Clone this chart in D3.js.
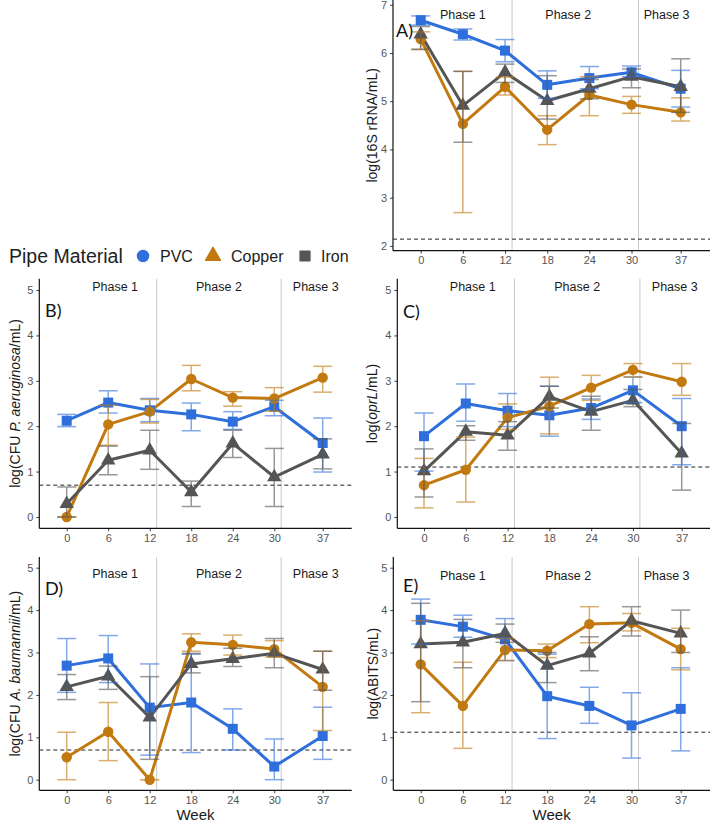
<!DOCTYPE html>
<html>
<head>
<meta charset="utf-8">
<script src="https://cdn.jsdelivr.net/npm/d3@7"></script>
<style>
  body { margin: 0; background: #fff; }
  svg { display: block; font-family: "Liberation Sans", Arial, sans-serif; }
</style>
</head>
<body>
<div id="chart"></div>
<script>
// sampling weeks and materials
var weeks = [0, 6, 12, 18, 24, 30, 37];
var materials = ["PVC", "Copper", "Iron"];
var phaseBreaks = [13, 31];
var phaseNames = ["Phase 1", "Phase 2", "Phase 3"];
var yTicksA = [2, 3, 4, 5, 6, 7];
var yTicksBE = [0, 1, 2, 3, 4, 5];

// A) 16S rRNA
var rrna_pvc = [6.68, 6.39, 6.05, 5.34, 5.48, 5.60, 5.26];
var rrna_pvc_err = [[6.58, 6.77], [6.27, 6.50], [5.82, 6.28], [5.06, 5.63], [5.26, 5.72], [5.51, 5.73], [4.88, 5.64]];
var rrna_copper = [6.29, 4.53, 5.30, 4.41, 5.13, 4.93, 4.77];
var rrna_copper_err = [[6.07, 6.44], [2.69, 5.62], [5.13, 5.50], [4.10, 4.70], [4.70, 5.51], [4.75, 5.10], [4.59, 5.07]];
var rrna_iron = [6.39, 4.91, 5.60, 5.01, 5.26, 5.51, 5.30];
var rrna_iron_err = [[6.08, 6.55], [4.15, 5.62], [5.39, 5.77], [4.63, 5.53], [5.05, 5.45], [5.28, 5.67], [4.77, 5.88]];

// B) P. aeruginosa
var pa_pvc = [2.12, 2.52, 2.35, 2.26, 2.10, 2.43, 1.63];
var pa_pvc_err = [[1.99, 2.26], [2.29, 2.78], [2.10, 2.61], [1.90, 2.51], [1.93, 2.32], [2.23, 2.57], [0.99, 2.18]];
var pa_copper = [0.00, 2.04, 2.32, 3.04, 2.63, 2.61, 3.07];
var pa_copper_err = [[0, 0], [1.58, 2.46], [2.07, 2.59], [2.78, 3.34], [2.44, 2.76], [2.33, 2.85], [2.75, 3.32]];
var pa_iron = [0.29, 1.25, 1.47, 0.55, 1.62, 0.88, 1.38];
var pa_iron_err = [[0, 0.66], [0.93, 1.56], [1.05, 1.91], [0.23, 0.79], [1.31, 1.91], [0.23, 1.51], [1.06, 1.72]];

// C) oprL
var oprl_pvc = [1.78, 2.50, 2.34, 2.24, 2.40, 2.79, 2.00];
var oprl_pvc_err = [[1.01, 2.29], [2.11, 2.93], [1.99, 2.72], [1.78, 2.88], [2.15, 2.60], [2.52, 3.08], [1.15, 2.61]];
var oprl_copper = [0.70, 1.04, 2.19, 2.44, 2.85, 3.24, 2.98];
var oprl_copper_err = [[0.20, 1.29], [0.33, 1.76], [1.93, 2.49], [1.83, 3.08], [2.57, 3.12], [3.09, 3.38], [2.68, 3.38]];
var oprl_iron = [1.01, 1.88, 1.80, 2.65, 2.32, 2.57, 1.40];
var oprl_iron_err = [[0.44, 1.50], [1.69, 2.01], [1.47, 2.10], [2.40, 2.88], [1.91, 2.66], [2.43, 2.81], [0.59, 2.06]];

// D) A. baumannii
var ab_pvc = [2.69, 2.86, 1.70, 1.82, 1.20, 0.31, 1.03];
var ab_pvc_err = [[2.06, 3.33], [2.29, 3.40], [0.58, 2.73], [0.64, 2.96], [0.70, 1.67], [0, 0.96], [0.48, 1.71]];
var ab_copper = [0.53, 1.13, 0.00, 3.24, 3.18, 3.08, 2.19];
var ab_copper_err = [[0, 1.12], [0.45, 1.82], [0, 0], [3.03, 3.44], [2.94, 3.41], [2.90, 3.28], [1.16, 3.03]];
var ab_iron = [2.19, 2.44, 1.47, 2.73, 2.85, 2.98, 2.60];
var ab_iron_err = [[1.89, 2.48], [2.13, 2.68], [0.48, 2.43], [2.52, 2.98], [2.67, 3.10], [2.64, 3.33], [2.11, 3.03]];

// E) ABITS
var abits_pvc = [3.77, 3.61, 3.31, 1.97, 1.74, 1.28, 1.67];
var abits_pvc_err = [[3.20, 4.26], [3.36, 3.88], [2.81, 3.80], [0.97, 2.96], [1.33, 2.18], [0.51, 2.05], [0.68, 2.64]];
var abits_copper = [2.72, 1.74, 3.06, 3.04, 3.67, 3.70, 3.08];
var abits_copper_err = [[1.58, 3.75], [0.74, 2.77], [2.81, 3.33], [2.88, 3.20], [3.23, 4.08], [3.51, 3.92], [2.59, 3.57]];
var abits_iron = [3.20, 3.24, 3.45, 2.69, 2.98, 3.75, 3.45];
var abits_iron_err = [[1.84, 4.16], [2.64, 3.78], [3.24, 3.67], [2.29, 3.00], [2.57, 3.37], [3.39, 4.08], [3.00, 4.00]];

var detectionLimits = [2.14, 0.70, 1.10, 0.70, 1.12];

var colors = { PVC: "#2e6fdb", Copper: "#c27a10", Iron: "#555555" };
var shapes = { PVC: d3.symbolSquare, Copper: d3.symbolCircle, Iron: d3.symbolTriangle };
var shapeSize = { PVC: 100, Copper: 85, Iron: 90 };

// panels: data wiring plus where each one sits
var panels = [
  { tag: "A)", label: [{ t: "log(16S rRNA/mL)" }], series: [rrna_pvc, rrna_copper, rrna_iron],
    errs: [rrna_pvc_err, rrna_copper_err, rrna_iron_err], limit: detectionLimits[0],
    yDomain: [1.9, 7.1], yTicks: yTicksA, left: 393, right: 710, top: 0, bottom: 250.7,
    x0: 420.7, x37: 680.7, phaseAt: [6, 21, 35], phaseY: 19, tagX: 396, tagY: 37, labelX: 372, week: false },
  { tag: "B)", label: [{ t: "log(CFU " }, { t: "P. aeruginosa", i: true }, { t: "/mL)" }],
    series: [pa_pvc, pa_copper, pa_iron], errs: [pa_pvc_err, pa_copper_err, pa_iron_err],
    limit: detectionLimits[1], yDomain: [-0.25, 5.25], yTicks: yTicksBE, left: 39.3, right: 351.7,
    top: 278.7, bottom: 528.3, x0: 66.7, x37: 322.7, phaseAt: [7, 22, 36], phaseY: 291,
    tagX: 45, tagY: 317, labelX: 15, week: false },
  { tag: "C)", label: [{ t: "log(" }, { t: "oprL", i: true }, { t: "/mL)" }],
    series: [oprl_pvc, oprl_copper, oprl_iron], errs: [oprl_pvc_err, oprl_copper_err, oprl_iron_err],
    limit: detectionLimits[2], yDomain: [-0.25, 5.25], yTicks: yTicksBE, left: 397.3, right: 710,
    top: 278.7, bottom: 528.3, x0: 424, x37: 681.7, phaseAt: [7, 22, 36], phaseY: 291,
    tagX: 403, tagY: 318, labelX: 372, week: false },
  { tag: "D)", label: [{ t: "log(CFU " }, { t: "A. baumannii", i: true }, { t: "/mL)" }],
    series: [ab_pvc, ab_copper, ab_iron], errs: [ab_pvc_err, ab_copper_err, ab_iron_err],
    limit: detectionLimits[3], yDomain: [-0.25, 5.25], yTicks: yTicksBE, left: 39.3, right: 351.7,
    top: 557.1, bottom: 790.3, x0: 66.7, x37: 322.7, phaseAt: [7, 22, 36], phaseY: 578,
    tagX: 45, tagY: 595, labelX: 15, week: true },
  { tag: "E)", label: [{ t: "log(ABITS/mL)" }],
    series: [abits_pvc, abits_copper, abits_iron], errs: [abits_pvc_err, abits_copper_err, abits_iron_err],
    limit: detectionLimits[4], yDomain: [-0.25, 5.25], yTicks: yTicksBE, left: 393.3, right: 710,
    top: 557.1, bottom: 790.3, x0: 420.7, x37: 680.7, phaseAt: [6, 21, 35], phaseY: 580,
    tagX: 403, tagY: 592, labelX: 373, week: true }
];

var svg = d3.select("#chart").append("svg").attr("width", 713).attr("height", 823);

panels.forEach(function (p) {
  var g = svg.append("g");
  var x = d3.scaleLinear().domain([0, 37]).range([p.x0, p.x37]);
  var y = d3.scaleLinear().domain(p.yDomain).range([p.bottom, p.top]);

  // phase separators
  phaseBreaks.forEach(function (b) {
    g.append("line").attr("x1", x(b)).attr("x2", x(b)).attr("y1", p.top).attr("y2", p.bottom)
      .attr("stroke", "#c9c9c9").attr("stroke-width", 1);
  });
  phaseNames.forEach(function (n, i) {
    g.append("text").attr("x", x(p.phaseAt[i])).attr("y", p.phaseY)
      .attr("text-anchor", "middle").style("font-size", "12.5px").attr("fill", "#1a1a1a").text(n);
  });

  // detection limit
  g.append("line").attr("x1", p.left).attr("x2", p.right).attr("y1", y(p.limit)).attr("y2", y(p.limit))
    .attr("stroke", "#222").attr("stroke-width", 1).attr("stroke-dasharray", "4,3");

  // axes
  var xa = g.append("g").attr("transform", "translate(0," + p.bottom + ")")
    .call(d3.axisBottom(x).tickValues(weeks).tickSize(3).tickPadding(3));
  var ya = g.append("g").attr("transform", "translate(" + p.left + ",0)")
    .call(d3.axisLeft(y).tickValues(p.yTicks).tickFormat(d3.format("d")).tickSize(3).tickPadding(3));
  [xa, ya].forEach(function (a) {
    a.select(".domain").remove();
    a.selectAll(".tick line").attr("stroke", "#444");
    a.selectAll(".tick text").attr("fill", "#555").style("font-size", "11px");
  });
  g.append("line").attr("x1", p.left).attr("x2", p.right).attr("y1", p.bottom).attr("y2", p.bottom)
    .attr("stroke", "#111").attr("stroke-width", 1.2);
  g.append("line").attr("x1", p.left).attr("x2", p.left).attr("y1", p.top).attr("y2", p.bottom)
    .attr("stroke", "#111").attr("stroke-width", 1.2);

  // y title with italic parts
  var yt = g.append("text").attr("transform", "translate(" + (p.labelX + 5) + "," + ((p.top + p.bottom) / 2) + ") rotate(-90)")
    .attr("text-anchor", "middle").style("font-size", "14px").attr("fill", "#1a1a1a");
  p.label.forEach(function (s) {
    yt.append("tspan").style("font-style", s.i ? "italic" : "normal").text(s.t);
  });
  if (p.week) {
    g.append("text").attr("x", (p.left + p.right) / 2).attr("y", 820).attr("text-anchor", "middle")
      .style("font-size", "15px").attr("fill", "#1a1a1a").text("Week");
  }

  // lines
  var line = d3.line().x(function (d, i) { return x(weeks[i]); }).y(function (d) { return y(d); });
  materials.forEach(function (m, k) {
    g.append("path").datum(p.series[k]).attr("d", line).attr("fill", "none")
      .attr("stroke", colors[m]).attr("stroke-width", 3).attr("stroke-linejoin", "round");
  });
  // points
  materials.forEach(function (m, k) {
    g.selectAll(null).data(p.series[k]).enter().append("path")
      .attr("d", d3.symbol().type(shapes[m]).size(shapeSize[m]))
      .attr("transform", function (d, i) { return "translate(" + x(weeks[i]) + "," + y(d) + ")"; })
      .attr("fill", colors[m]);
  });
  // error bars
  var cap = 9.5;
  materials.forEach(function (m, k) {
    var eb = g.selectAll(null).data(p.errs[k]).enter().append("g")
      .attr("stroke", colors[m]).attr("stroke-width", 1.5).attr("opacity", 0.6);
    eb.append("line").attr("x1", function (d, i) { return x(weeks[i]); }).attr("x2", function (d, i) { return x(weeks[i]); })
      .attr("y1", function (d) { return y(d[0]); }).attr("y2", function (d) { return y(d[1]); });
    [0, 1].forEach(function (j) {
      eb.append("line").attr("x1", function (d, i) { return x(weeks[i]) - cap; })
        .attr("x2", function (d, i) { return x(weeks[i]) + cap; })
        .attr("y1", function (d) { return y(d[j]); }).attr("y2", function (d) { return y(d[j]); });
    });
  });

  // panel tag
  g.append("text").attr("x", p.tagX).attr("y", p.tagY).style("font-family", "Lato, 'Open Sans', sans-serif")
    .style("font-size", "18px").attr("fill", "#111").text(p.tag);
});

// legend
var lg = svg.append("g");
lg.append("text").attr("x", 9).attr("y", 262.5).style("font-size", "19.5px").attr("fill", "#222").text("Pipe Material");
var legendKeys = [{ m: "PVC", kx: 143, tx: 160 }, { m: "Copper", kx: 213, tx: 231 }, { m: "Iron", kx: 305, tx: 321 }];
var legendShapes = { PVC: d3.symbolCircle, Copper: d3.symbolTriangle, Iron: d3.symbolSquare };
legendKeys.forEach(function (k) {
  lg.append("path").attr("d", d3.symbol().type(legendShapes[k.m]).size(95))
    .attr("transform", "translate(" + k.kx + ",256)").attr("fill", colors[k.m])
    .attr("stroke", colors[k.m]).attr("stroke-width", 1.5).attr("stroke-linejoin", "round");
  lg.append("text").attr("x", k.tx).attr("y", 262).style("font-size", "16px").attr("fill", "#222").text(k.m);
});
</script>
</body>
</html>
